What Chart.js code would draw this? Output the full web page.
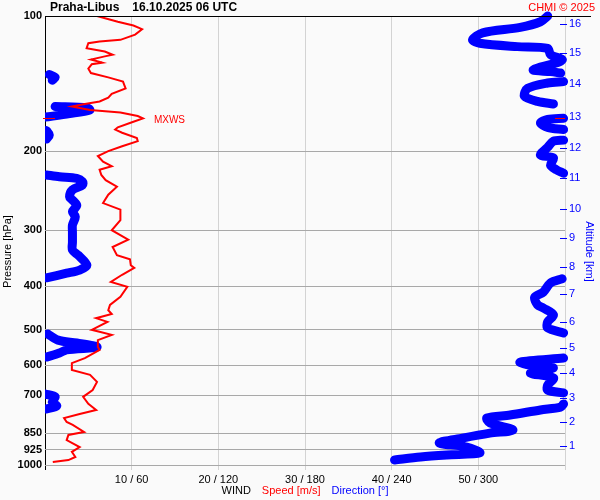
<!DOCTYPE html>
<html>
<head>
<meta charset="utf-8">
<title>Praha-Libus wind profile</title>
<script src="https://cdn.jsdelivr.net/npm/chart.js@4.4.1/dist/chart.umd.min.js"></script>
<style>
  html, body { margin: 0; padding: 0; background: #fafafa; }
  #wrap { width: 600px; height: 500px; }
</style>
</head>
<body>
<div id="wrap"><canvas id="windChart" width="600" height="500"></canvas></div>
<script>
const FONT = "'Liberation Sans', Arial, sans-serif";
const RED = '#ff0000';
const BLUE = '#0000ff';

const stationName = 'Praha-Libus';
const obsTime = '16.10.2025 06 UTC';
const copyright = 'CHMI © 2025';

// pressure axis (hPa)
const pressureTicks = [100, 200, 300, 400, 500, 600, 700, 850, 925, 1000];
// speed axis (m/s); direction shares it, 6 degrees per m/s
const speedTicks = [0, 10, 20, 30, 40, 50, 60];
// altitude axis (km) and the pressure each one sits at
const altitudeKm = [1, 2, 3, 4, 5, 6, 7, 8, 9, 10, 11, 12, 13, 14, 15, 16];
const altitudePressure = [907, 802, 709, 624, 549, 480, 417, 362, 312, 269, 230, 197, 168, 142, 121, 104];

// wind speed profile
const speedPressure = [100, 103, 105, 107, 110, 113, 114, 115, 118, 120, 122, 123, 125, 127, 128, 131, 134, 137, 140, 145,
  149, 152, 155, 157, 159, 162, 164, 167, 169, 172, 177, 179, 182, 187, 190, 195, 200, 205, 211, 216,
  220, 226, 232, 240, 250, 261, 270, 285, 300, 315, 327, 341, 348, 359, 364, 377, 391, 401, 422, 440,
  452, 461, 471, 480, 500, 513, 527, 546, 554, 578, 593, 614, 630, 653, 681, 705, 731, 754, 770, 786,
  802, 814, 844, 857, 880, 912, 935, 960, 975, 985];
const speedValues = [6.0, 8.4, 10.2, 11.2, 10.4, 8.7, 6.3, 5.0, 4.8, 6.9, 7.8, 6.9, 5.3, 6.6, 5.4, 5.0, 5.3, 7.3, 9.0, 9.3,
  7.7, 7.3, 6.3, 4.6, 3.1, 5.2, 8.7, 10.7, 11.3, 10.2, 8.4, 8.1, 8.9, 10.6, 10.7, 8.9, 7.3, 6.1, 6.7, 7.7,
  6.3, 6.5, 7.0, 8.3, 7.3, 6.7, 8.7, 8.7, 7.7, 9.6, 7.8, 8.3, 9.8, 9.9, 10.3, 8.9, 7.6, 9.5, 8.7, 7.5,
  7.3, 7.7, 5.9, 7.2, 5.4, 7.7, 6.1, 6.1, 6.3, 4.6, 3.1, 3.1, 5.2, 6.0, 5.5, 4.4, 5.0, 5.9, 4.0, 2.2,
  2.5, 3.2, 4.5, 2.7, 2.5, 4.0, 3.1, 3.5, 2.7, 0.9];

// wind direction profile (deg), null = break where the trace wraps 360 <-> 0
const dirPressure = [100, 103, 106, 109, 113, 115, 117, 118, 122, 125, 127, 130, 132, 133, 134, null,
  135, 137, 139, null,
  140, 141, 145, 151, 155, 157, null,
  159, 160, 162, 165, 168, null,
  169, 170, 173, 177, 179, null,
  180, 184, 188, null,
  189, 190, 196, 204, 207, 215, 220, 224, null,
  226, 228, 230, 234, 238, 244, 253, 257, 264, 273, 280, 292, 303, 319, 332, 341, 359, 368, 374, 383, null,
  385, 393, 412, 423, 440, 447, 463, 480, 495, 508, null,
  511, 527, 535, 546, 554, 563, 575, null,
  578, 590, 599, 608, 624, 640, 664, 681, 691, null,
  695, 705, 724, 739, 750, null,
  731, 743, 754, 774, 786, 806, 836, 849, 871, 893, 912, 940, 950, 960, 975];
const dirValues = [348, 343, 329, 303, 296, 301, 327, 348, 350, 358, 355, 343, 338, 350, 357, null,
  3, 7, 5, null,
  359, 348, 334, 332, 341, 352, null,
  7, 29, 31, 17, 0, null,
  359, 348, 343, 348, 359, null,
  1, 3, 1, null,
  359, 352, 348, 343, 352, 350, 354, 359, null,
  1, 10, 22, 26, 26, 19, 17, 19, 22, 19, 21, 19, 19, 19, 19, 23, 29, 24, 15, 1, null,
  358, 350, 345, 339, 341, 345, 352, 348, 348, 359, null,
  2, 9, 22, 36, 15, 10, 1, null,
  359, 329, 336, 352, 336, 352, 348, 348, 359, null,
  0, 7, 5, 8, 1, null,
  359, 357, 343, 322, 306, 308, 324, 308, 289, 273, 292, 301, 278, 260, 242];

// max wind level
const maxWindPressure = 169;
const maxWindSpeed = 11.3;

function directionSegments() {
  const segs = [];
  let cur = [];
  dirPressure.forEach((p, i) => {
    if (p === null) {
      if (cur.length) segs.push(cur);
      cur = [];
      return;
    }
    cur.push({ x: dirValues[i] / 6, y: p });
  });
  if (cur.length) segs.push(cur);
  return segs;
}

// texts, altitude tick marks and MXWS marker
const decorPlugin = {
  id: 'decor',
  afterDraw(chart) {
    const { ctx, chartArea: a } = chart;
    const x = chart.scales.x;
    const y = chart.scales.y;
    ctx.save();

    // black top line at 100 hPa, runs out past the plot
    const yTop = Math.round(y.getPixelForValue(pressureTicks[0])) + 0.5;
    ctx.strokeStyle = '#000';
    ctx.lineWidth = 1;
    ctx.beginPath();
    ctx.moveTo(a.left, yTop);
    ctx.lineTo(chart.width - 9, yTop);
    ctx.stroke();

    // altitude tick dashes
    ctx.strokeStyle = BLUE;
    altitudePressure.forEach(p => {
      const py = Math.round(y.getPixelForValue(p)) + 0.5;
      ctx.beginPath();
      ctx.moveTo(a.right - 5, py);
      ctx.lineTo(a.right + 2, py);
      ctx.stroke();
    });

    // MXWS
    const my = Math.round(y.getPixelForValue(maxWindPressure)) + 0.5;
    ctx.strokeStyle = RED;
    ctx.beginPath();
    ctx.moveTo(a.left - 2, my);
    ctx.lineTo(a.left + 10, my);
    ctx.moveTo(a.right - 10, my);
    ctx.lineTo(a.right, my);
    ctx.stroke();
    ctx.fillStyle = RED;
    ctx.font = `10px ${FONT}`;
    ctx.textAlign = 'left';
    ctx.textBaseline = 'middle';
    ctx.fillText('MXWS', x.getPixelForValue(maxWindSpeed) + 11, my + 2);

    // header
    ctx.fillStyle = '#000';
    ctx.font = `bold 12px ${FONT}`;
    ctx.fillText(stationName, a.left + 5, 8);
    const nameW = ctx.measureText(stationName).width;
    ctx.fillText(obsTime, a.left + 5 + nameW + 13, 8);

    ctx.fillStyle = RED;
    ctx.font = `11px ${FONT}`;
    ctx.textAlign = 'right';
    ctx.fillText(copyright, chart.width - 5, 8);

    // axis titles
    const midY = (a.top + a.bottom) / 2 + 11;
    ctx.textAlign = 'center';
    ctx.fillStyle = '#000';
    ctx.save();
    ctx.translate(8, midY);
    ctx.rotate(-Math.PI / 2);
    ctx.fillText('Pressure [hPa]', 0, 0);
    ctx.restore();

    ctx.fillStyle = BLUE;
    ctx.save();
    ctx.translate(a.right + 24, midY);
    ctx.rotate(Math.PI / 2);
    ctx.fillText('Altitude [km]', 0, 0);
    ctx.restore();

    // bottom legend
    const parts = [['WIND', '#000'], ['Speed [m/s]', RED], ['Direction [°]', BLUE]];
    const gap = 11;
    const widths = parts.map(p => ctx.measureText(p[0]).width);
    const total = widths.reduce((s, w) => s + w, 0) + gap * (parts.length - 1);
    let lx = (a.left + a.right) / 2 - total / 2;
    ctx.textAlign = 'left';
    parts.forEach((p, i) => {
      ctx.fillStyle = p[1];
      ctx.fillText(p[0], lx, 491);
      lx += widths[i] + gap;
    });

    ctx.restore();
  }
};

const datasets = [{
  label: 'Speed',
  data: speedPressure.map((p, i) => ({ x: speedValues[i], y: p })),
  borderColor: RED,
  borderWidth: 2,
  pointRadius: 0,
  showLine: true,
  order: 0
}];

directionSegments().forEach(seg => {
  datasets.push({
    label: 'Direction',
    data: seg,
    borderColor: BLUE,
    borderWidth: 9,
    borderCapStyle: 'round',
    borderJoinStyle: 'round',
    tension: 0.3,
    pointRadius: 0,
    showLine: true,
    clip: { left: 0, top: 5, right: 4, bottom: 5 },
    order: 1
  });
});

new Chart(document.getElementById('windChart'), {
  type: 'scatter',
  data: { datasets },
  options: {
    responsive: false,
    animation: false,
    events: [],
    layout: { padding: { top: 16 } },
    plugins: {
      legend: { display: false },
      tooltip: { enabled: false },
      title: { display: false }
    },
    scales: {
      x: {
        type: 'linear',
        min: 0, max: 60,
        afterBuildTicks: s => { s.ticks = speedTicks.map(v => ({ value: v })); },
        afterFit: s => { s.height = 35; },
        border: { display: false },
        grid: {
          color: c => (c.tick && c.tick.value === 0) ? '#000' : '#d3d3d3',
          drawTicks: true,
          tickLength: 5
        },
        ticks: {
          autoSkip: false, maxRotation: 0, padding: 3,
          color: '#000',
          font: { family: FONT, size: 11 },
          callback: v => (v === 0 || v === 60) ? '' : `${v} / ${v * 6}`
        }
      },
      y: {
        type: 'logarithmic',
        position: 'left',
        min: 100, max: 1000,
        reverse: true,
        afterBuildTicks: s => { s.ticks = pressureTicks.map(v => ({ value: v })); },
        afterFit: s => { s.width = 45; },
        border: { display: false },
        grid: {
          color: c => (c.tick && c.tick.value === 100) ? '#000' : '#a8a8a8',
          drawTicks: false
        },
        ticks: {
          autoSkip: false, padding: 3,
          color: '#000',
          font: { family: FONT, size: 11, weight: 'bold' },
          callback: v => String(v)
        }
      },
      alt: {
        type: 'logarithmic',
        position: 'right',
        min: 100, max: 1000,
        reverse: true,
        afterBuildTicks: s => { s.ticks = altitudePressure.map(v => ({ value: v })); },
        afterFit: s => { s.width = 35; },
        border: { display: false },
        grid: { drawOnChartArea: false, drawTicks: false },
        ticks: {
          autoSkip: false, padding: 4,
          color: BLUE,
          font: { family: FONT, size: 11 },
          callback: v => String(altitudeKm[altitudePressure.indexOf(v)])
        }
      }
    }
  },
  plugins: [decorPlugin]
});
</script>
</body>
</html>
